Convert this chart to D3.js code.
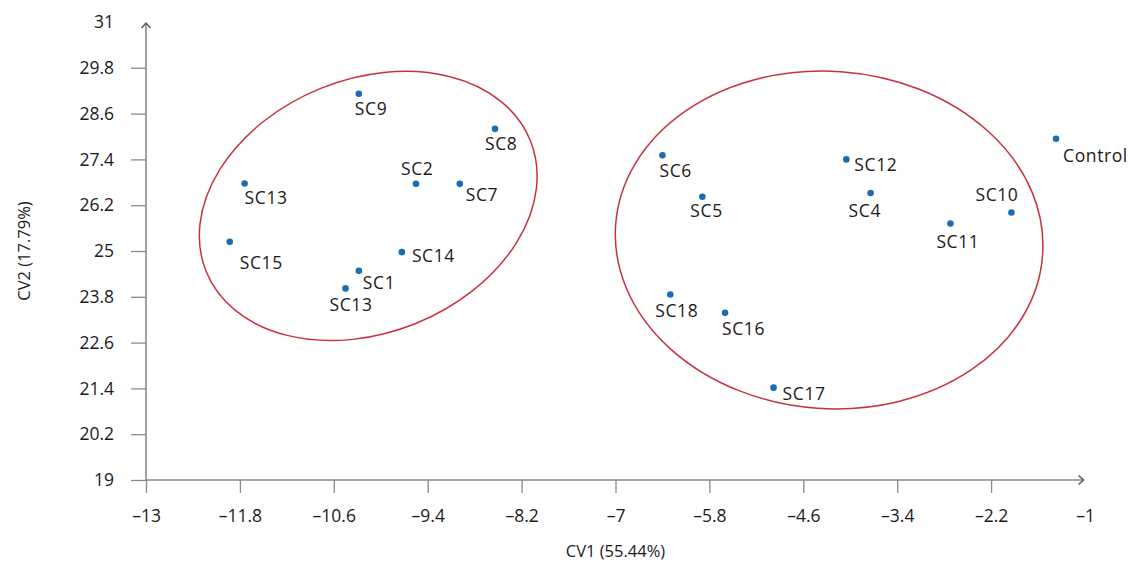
<!DOCTYPE html>
<html><head><meta charset="utf-8">
<script src="https://cdn.jsdelivr.net/npm/d3@7"></script>
<style>
html,body{margin:0;padding:0;background:#fff;}
svg text{font-family:"Open Sans",sans-serif;fill:#1c1a1b;}
</style></head>
<body>
<svg id="chart" width="1129" height="562"></svg>
<script>
// ---- data ----
const labels = ["SC9","SC8","SC2","SC7","SC14","SC1","SC13","SC13","SC15",
                "SC6","SC5","SC12","SC4","SC18","SC16","SC17","SC11","SC10","Control"];
const cv1 = [-10.28,-8.54,-9.55,-8.99,-9.73,-10.28,-10.45,-11.74,-11.93,
             -6.40,-5.89,-4.05,-3.74,-6.30,-5.60,-4.98,-2.72,-1.94,-1.37];
const cv2 = [29.12,28.20,26.76,26.76,24.97,24.48,24.02,26.77,25.24,
             27.51,26.42,27.40,26.52,23.86,23.38,21.42,25.72,26.01,27.94];
const xTicks = [-13,-11.8,-10.6,-9.4,-8.2,-7,-5.8,-4.6,-3.4,-2.2,-1];
const yTicks = [19,20.2,21.4,22.6,23.8,25,26.2,27.4,28.6,29.8,31];
const xTitle = "CV1 (55.44%)";
const yTitle = "CV2 (17.79%)";
// group ellipses: centre (data), semi-axes (data units), rotation (deg)
const ellipseCx = [-10.16,-4.27];
const ellipseCy = [26.18,25.29];
const ellipseRx = [2.234,2.735];
const ellipseRy = [3.322,4.42];
const ellipseRot = [-22,4];

// ---- layout (label offsets in px relative to point: start x, baseline y) ----
const labelDx = [-4,-10,-15,6,10,4,-16,0,10,-3,-12,8,-22,-15,-3,9,-14,-36,7];
const labelDy = [21,21,-9,17,10,18,23,21,27,22,20,12,24,22,22,12,24,-11,23];

const svg = d3.select("#chart");
const x = d3.scaleLinear().domain([-13,-1]).range([146,1085]);
const y = d3.scaleLinear().domain([19,31]).range([480,22]);
const axisColor = "#8a8a8a";
const fmt = v => (v<0 ? "\u2013" + Math.abs(v) : String(v));
const fs = 17.5;

// x axis
const gx = svg.append("g").attr("transform","translate(0,480)")
  .call(d3.axisBottom(x).tickValues(xTicks).tickFormat(fmt).tickSize(13).tickSizeOuter(0).tickPadding(17));
gx.select(".domain").remove();
gx.selectAll(".tick line").attr("stroke",axisColor).attr("stroke-width",1.3)
  .filter(d=>d===-1).remove();
gx.selectAll(".tick text").attr("font-size",fs).attr("fill","#1c1a1b");

// y axis
const gy = svg.append("g").attr("transform","translate(146,0)")
  .call(d3.axisLeft(y).tickValues(yTicks).tickFormat(fmt).tickSize(15).tickSizeOuter(0).tickPadding(17));
gy.select(".domain").remove();
gy.selectAll(".tick line").attr("stroke",axisColor).attr("stroke-width",1.3)
  .filter(d=>d===31).remove();
gy.selectAll(".tick text").attr("font-size",fs).attr("fill","#1c1a1b");

// axis lines with arrow heads
const xEnd = x(-1)-1.5, yEnd = y(31)+1;
svg.append("line").attr("x1",x(-13)).attr("x2",xEnd).attr("y1",y(19)).attr("y2",y(19))
  .attr("stroke",axisColor).attr("stroke-width",1.6);
svg.append("line").attr("x1",x(-13)).attr("x2",x(-13)).attr("y1",y(19)).attr("y2",yEnd)
  .attr("stroke",axisColor).attr("stroke-width",1.6);
svg.append("path").attr("d",`M${xEnd-5},${y(19)-4.5}L${xEnd},${y(19)}L${xEnd-5},${y(19)+4.5}`)
  .attr("fill","none").attr("stroke","#555").attr("stroke-width",1.4);
svg.append("path").attr("d",`M${x(-13)-4.5},${yEnd+5}L${x(-13)},${yEnd}L${x(-13)+4.5},${yEnd+5}`)
  .attr("fill","none").attr("stroke","#555").attr("stroke-width",1.4);

// axis titles
svg.append("text").attr("x",x(-7)).attr("y",557).attr("text-anchor","middle")
  .attr("font-size",16.5).text(xTitle);
svg.append("text").attr("transform",`translate(30,${y(25)}) rotate(-90)`)
  .attr("text-anchor","middle").attr("font-size",16.5).text(yTitle);

// ellipses
const pxPerX = x(1)-x(0), pxPerY = y(0)-y(1);
svg.append("g").selectAll("ellipse").data(ellipseCx).join("ellipse")
  .attr("transform",(d,i)=>`translate(${x(d)},${y(ellipseCy[i])}) rotate(${ellipseRot[i]})`)
  .attr("rx",(d,i)=>ellipseRx[i]*pxPerX)
  .attr("ry",(d,i)=>ellipseRy[i]*pxPerY)
  .attr("fill","none").attr("stroke","#c8323f").attr("stroke-width",1.5);

// points
const pts = labels.map((l,i)=>({l, x:cv1[i], y:cv2[i], dx:labelDx[i], dy:labelDy[i]}));
svg.append("g").selectAll("circle").data(pts).join("circle")
  .attr("cx",d=>x(d.x)).attr("cy",d=>y(d.y)).attr("r",3.3).attr("fill","#1a6db5");
svg.append("g").selectAll("text").data(pts).join("text")
  .attr("x",d=>x(d.x)+d.dx).attr("y",d=>y(d.y)+d.dy)
  .attr("font-size",fs).attr("letter-spacing",0.6).text(d=>d.l);
</script>
</body></html>
